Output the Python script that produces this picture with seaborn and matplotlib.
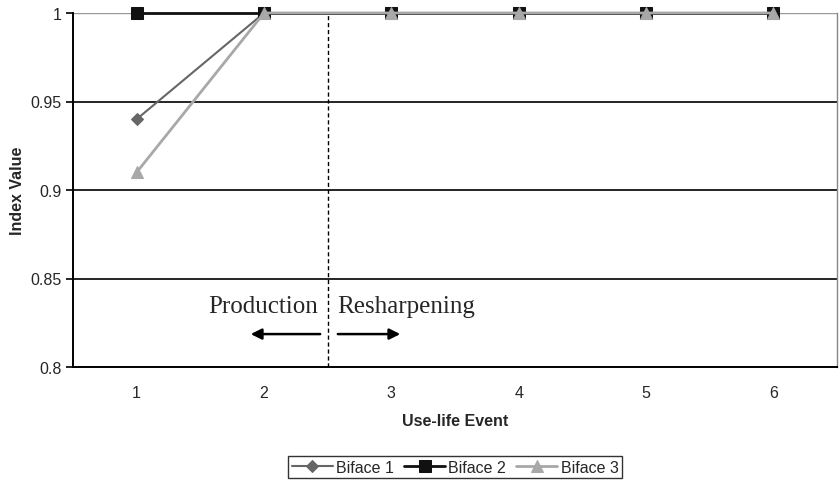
import numpy as np
import pandas as pd
import matplotlib
matplotlib.use("Agg")
import matplotlib.pyplot as plt
import seaborn as sns

events = [1, 2, 3, 4, 5, 6]
biface_1 = [0.94, 1.0, 1.0, 1.0, 1.0, 1.0]
biface_2 = [1.0, 1.0, 1.0, 1.0, 1.0, 1.0]
biface_3 = [0.91, 1.0, 1.0, 1.0, 1.0, 1.0]
series_names = ["Biface 1", "Biface 2", "Biface 3"]
y_ticks = [0.8, 0.85, 0.9, 0.95, 1.0]
y_tick_labels = ["0.8", "0.85", "0.9", "0.95", "1"]

sns.set_style("white")
plt.rcParams["font.family"] = ["Liberation Sans", "DejaVu Sans"]

df = pd.DataFrame({
    "event": events * 3,
    "value": biface_1 + biface_2 + biface_3,
    "series": np.repeat(series_names, len(events)),
})

colors = {"Biface 1": "#666666", "Biface 2": "#111111", "Biface 3": "#a8a8a8"}
markers = {"Biface 1": "D", "Biface 2": "s", "Biface 3": "^"}
msizes = {"Biface 1": 6, "Biface 2": 8, "Biface 3": 8}
lwidths = {"Biface 1": 1.5, "Biface 2": 2.0, "Biface 3": 2.0}

fig = plt.figure(figsize=(8.39, 4.85), dpi=100)
ax = fig.add_axes([73 / 839, 1 - 368 / 485, (837 - 73) / 839, (368 - 14) / 485])

# gridlines
for yv in y_ticks[1:-1]:
    ax.axhline(yv, color="black", lw=1.2, zorder=1)
ax.axhline(1.0, color="#999999", lw=1.0, zorder=1)

for name in series_names:
    sub = df[df["series"] == name]
    sns.lineplot(data=sub, x="event", y="value", ax=ax, color=colors[name],
                 marker=markers[name], markersize=msizes[name], lw=lwidths[name],
                 markeredgecolor=colors[name], label=name, zorder=3, clip_on=False)

ax.set_xlim(0.5, 6.5)
ax.set_ylim(0.8, 1.0)
ax.set_yticks(y_ticks)
ax.set_yticklabels(y_tick_labels, fontsize=11.5)
ax.set_xticks(events)
ax.set_xticklabels([str(e) for e in events], fontsize=11.5)
ax.set_xticks(np.arange(0.5, 7.0, 1.0), minor=True)
ax.tick_params(axis="x", which="major", length=0, pad=13)
ax.tick_params(axis="x", which="minor", length=5, width=1.2, color="black", direction="out")
ax.tick_params(axis="y", which="major", length=5, width=1.2, color="black", direction="out", pad=3)
ax.tick_params(left=True, bottom=True)

for side in ["left", "bottom"]:
    ax.spines[side].set_color("black")
    ax.spines[side].set_linewidth(1.4)
ax.spines["right"].set_color("#888888")
ax.spines["right"].set_linewidth(1.0)
ax.spines["top"].set_visible(False)

ax.set_ylabel("Index Value", fontsize=11.5, fontweight="bold", labelpad=4)
ax.set_xlabel("Use-life Event", fontsize=11.5, fontweight="bold", labelpad=9)

# production / resharpening divider
ax.axvline(2.5, color="black", lw=1.0, ls=(0, (3, 2)), zorder=2)
serif = ["Liberation Serif", "DejaVu Serif"]
ax.text(2.424, 0.8311, "Production", fontsize=18, family=serif, ha="right", va="baseline")
ax.text(2.573, 0.8311, "Resharpening", fontsize=18, family=serif, ha="left", va="baseline")
ax.annotate("", xy=(1.874, 0.8186), xytext=(2.463, 0.8186),
            arrowprops=dict(arrowstyle="-|>", color="black", lw=1.8, mutation_scale=16))
ax.annotate("", xy=(3.092, 0.8186), xytext=(2.558, 0.8186),
            arrowprops=dict(arrowstyle="-|>", color="black", lw=1.8, mutation_scale=16))

leg = ax.legend(loc="center", bbox_to_anchor=(0.5, -0.2825), ncol=3, frameon=True,
                fancybox=False, edgecolor="black", fontsize=11.5, handlelength=2.6,
                handletextpad=0.2, columnspacing=0.6, borderpad=0.25)
leg.get_frame().set_linewidth(1.0)

fig.savefig("out.png", dpi=100)
